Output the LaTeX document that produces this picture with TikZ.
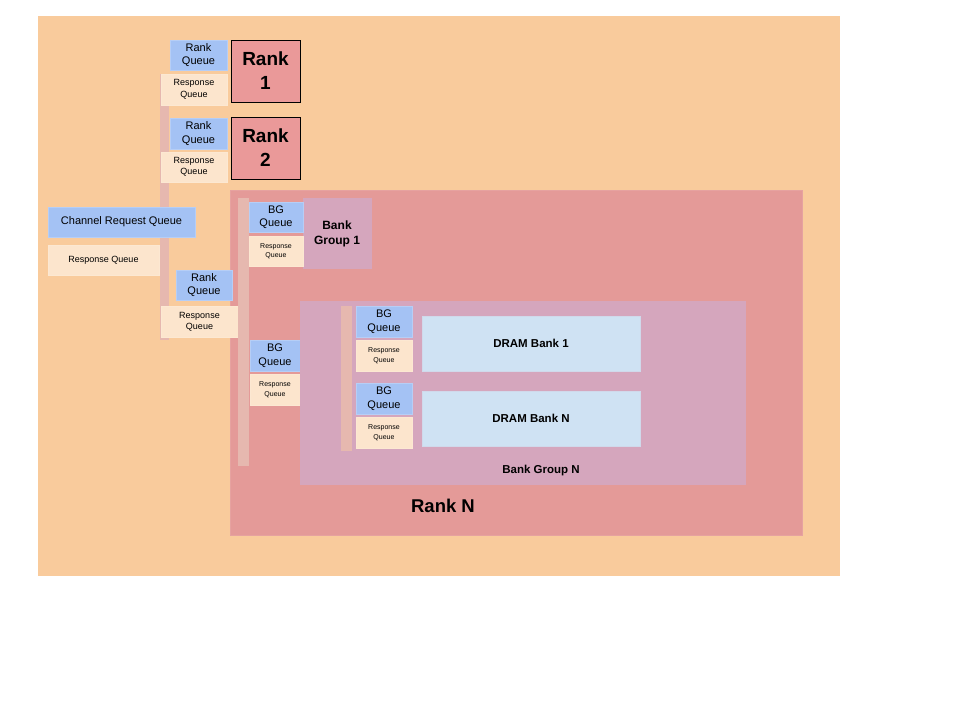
\documentclass[tikz,border=0pt]{standalone}
\usepackage{fontspec}
\setmainfont{Liberation Sans}
\definecolor{bgor}{HTML}{F9CB9C}
\definecolor{rankc}{HTML}{EA9999}
\definecolor{rankn}{HTML}{E49A98}
\definecolor{bgc}{HTML}{D5A6BD}
\definecolor{qblue}{HTML}{A4C2F4}
\definecolor{qresp}{HTML}{FCE5CD}
\definecolor{barc}{HTML}{E6B8AF}
\definecolor{dram}{HTML}{CFE2F3}
\tikzset{
  box/.style={anchor=north west, inner sep=0pt, outer sep=0pt, align=center},
  rq/.style={box, fill=qblue, draw=qblue!80!white, font=\fontsize{11}{13.5}\selectfont},
  resp/.style={box, fill=qresp, draw=qresp!90!white, font=\fontsize{9}{11.5}\selectfont},
  resps/.style={box, fill=qresp, draw=qresp!90!white, font=\fontsize{7}{9.5}\selectfont},
  bar/.style={box, fill=barc},
  bold/.style={align=center, font=\bfseries\fontsize{12}{14.5}\selectfont},
  rankbox/.style={box, fill=rankc, draw=black, line width=0.8pt, minimum width=69, minimum height=62, font=\bfseries\fontsize{19}{24}\selectfont},
  dbank/.style={box, fill=dram, draw=dram!85!bgc, minimum width=218, minimum height=55, font=\bfseries\fontsize{11.5}{13}\selectfont},
}
\begin{document}
\begin{tikzpicture}[x=1pt,y=-1pt]
\useasboundingbox (0,0) rectangle (960,720);
% background
\node[box, fill=bgor, minimum width=802, minimum height=560] (bg) at (38,16) {};
% Rank N
\node[box, fill=rankn, draw=rankn!92!white, minimum width=572, minimum height=345] (rankN) at (230,190) {};
\node[font=\bfseries\fontsize{18.5}{20}\selectfont] (rankNlbl) at (443,506) {Rank N};
% left bar
\node[bar, minimum width=9, minimum height=266] (bar1) at (160,74) {};
% Rank 1 and 2
\node[rankbox] (rank1) at (231,40) {Rank\\1};
\node[rankbox] (rank2) at (231,117) {Rank\\2};
\node[rq, minimum width=57, minimum height=30] (rq1) at (170,40) {Rank\\Queue};
\node[resp, minimum width=66, minimum height=31] (rsp1) at (161,74) {Response\\Queue};
\node[rq, minimum width=57, minimum height=31] (rq2) at (170,118) {Rank\\Queue};
\node[resp, minimum width=66, minimum height=30] (rsp2) at (161,152) {Response\\Queue};
% channel queues
\node[rq, minimum width=147, minimum height=30] (crq) at (48,207) {Channel Request Queue};
\node[resp, minimum width=111, minimum height=30] (crsp) at (48,245) {Response Queue};
% rank N queues
\node[rq, minimum width=56, minimum height=30] (rqN) at (176,270) {Rank\\Queue};
\node[resp, minimum width=77, minimum height=31] (rspN) at (161,306) {Response\\Queue};
% bar in rank N
\node[bar, minimum width=11, minimum height=268] (bar2) at (238,198) {};
% Bank group 1
\node[box, fill=bgc, minimum width=69, minimum height=71] (bg1) at (303,198) {};
\node[bold] (bg1lbl) at (337,234) {Bank\\Group 1};
\node[rq, minimum width=54, minimum height=30] (bgq1) at (249,202) {BG\\Queue};
\node[resps, minimum width=54, minimum height=30] (bgr1) at (249,236) {Response\\Queue};
% BG N queues in rank
\node[rq, minimum width=50, minimum height=31] (bgqN) at (250,340) {BG\\Queue};
\node[resps, minimum width=50, minimum height=31] (bgrN) at (250,374) {Response\\Queue};
% Bank Group N
\node[box, fill=bgc, minimum width=446, minimum height=184] (bgN) at (300,301) {};
\node[font=\bfseries\fontsize{11.5}{13}\selectfont] (bgNlbl) at (541,471) {Bank Group N};
\node[bar, minimum width=11, minimum height=145] (bar3) at (341,306) {};
\node[rq, minimum width=56, minimum height=31] (bq1) at (356,306) {BG\\Queue};
\node[resps, minimum width=56, minimum height=31] (br1) at (356,340) {Response\\Queue};
\node[rq, minimum width=56, minimum height=31] (bq2) at (356,383) {BG\\Queue};
\node[resps, minimum width=56, minimum height=31] (br2) at (356,417) {Response\\Queue};
\node[dbank] (db1) at (422,316) {DRAM Bank 1};
\node[dbank] (dbN) at (422,391) {DRAM Bank N};
\end{tikzpicture}
\end{document}
